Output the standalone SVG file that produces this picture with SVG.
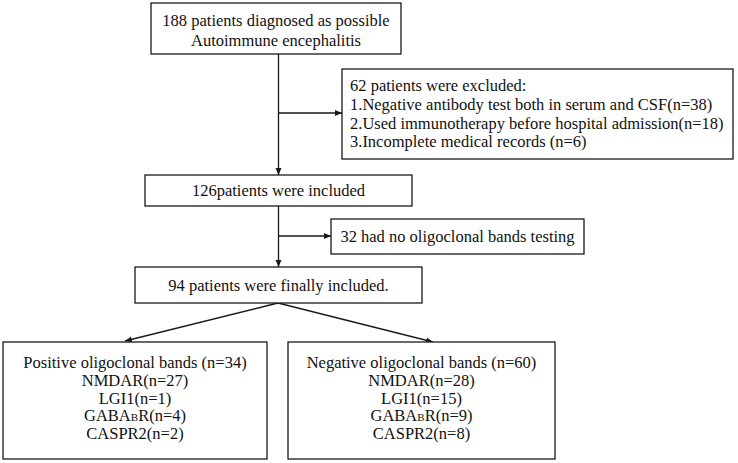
<svg xmlns="http://www.w3.org/2000/svg" width="738" height="463" viewBox="0 0 738 463">
<style>
.box{fill:#fff;stroke:#1a1a1a;stroke-width:1.3}
.t{font-family:'Liberation Serif','Times New Roman',Times,serif;font-size:16.5px;fill:#111}
.c{text-anchor:middle}
.ln{stroke:#1a1a1a;stroke-width:1.3;fill:none}
.sm{font-size:11px}
</style>
<defs>
<marker id="ah" markerWidth="8" markerHeight="8" refX="7" refY="4" orient="auto" markerUnits="userSpaceOnUse">
<path d="M0,1 L7,4 L0,7 Z" fill="#1a1a1a"/>
</marker>
</defs>
<rect width="738" height="463" fill="#fff"/>
<g id="connectors">
<line class="ln" x1="278.5" y1="54" x2="278.5" y2="175" marker-end="url(#ah)"/>
<line class="ln" x1="278.5" y1="113" x2="342" y2="113" marker-end="url(#ah)"/>
<line class="ln" x1="278.5" y1="206" x2="278.5" y2="267" marker-end="url(#ah)"/>
<line class="ln" x1="278.5" y1="236" x2="331" y2="236" marker-end="url(#ah)"/>
<line class="ln" x1="278" y1="303" x2="125" y2="341" marker-end="url(#ah)"/>
<line class="ln" x1="278" y1="303" x2="433" y2="342" marker-end="url(#ah)"/>
</g>
<g id="n1">
<rect class="box" x="151" y="3" width="250" height="51"/>
<text class="t c" x="276" y="26" font-family="Liberation Serif, serif">188 patients diagnosed as possible</text>
<text class="t c" x="276" y="46" font-family="Liberation Serif, serif">Autoimmune encephalitis</text>
</g>
<g id="n2">
<rect class="box" x="342" y="69" width="391" height="90"/>
<text class="t" x="350" y="91">62 patients were excluded:</text>
<text class="t" x="350" y="110">1.Negative antibody test both in serum and CSF(n=38)</text>
<text class="t" x="350" y="128.5">2.Used immunotherapy before hospital admission(n=18)</text>
<text class="t" x="350" y="147">3.Incomplete medical records (n=6)</text>
</g>
<g id="n3">
<rect class="box" x="145" y="175" width="267" height="31"/>
<text class="t c" x="278.5" y="196">126patients were included</text>
</g>
<g id="n4">
<rect class="box" x="331" y="219" width="253" height="35"/>
<text class="t c" x="457.5" y="242">32 had no oligoclonal bands testing</text>
</g>
<g id="n5">
<rect class="box" x="135" y="267" width="287" height="36"/>
<text class="t c" x="278.5" y="291">94 patients were finally included.</text>
</g>
<g id="n6">
<rect class="box" x="3" y="342" width="264" height="117"/>
<text class="t c" x="135" y="368">Positive oligoclonal bands (n=34)</text>
<text class="t c" x="135" y="386">NMDAR(n=27)</text>
<text class="t c" x="135" y="404">LGI1(n=1)</text>
<text class="t c" x="135" y="421">GABA<tspan class="sm">B</tspan>R(n=4)</text>
<text class="t c" x="135" y="439">CASPR2(n=2)</text>
</g>
<g id="n7">
<rect class="box" x="288" y="342" width="267" height="117"/>
<text class="t c" x="421.5" y="368">Negative oligoclonal bands (n=60)</text>
<text class="t c" x="421.5" y="386">NMDAR(n=28)</text>
<text class="t c" x="421.5" y="404">LGI1(n=15)</text>
<text class="t c" x="421.5" y="421">GABA<tspan class="sm">B</tspan>R(n=9)</text>
<text class="t c" x="421.5" y="439">CASPR2(n=8)</text>
</g>
</svg>
